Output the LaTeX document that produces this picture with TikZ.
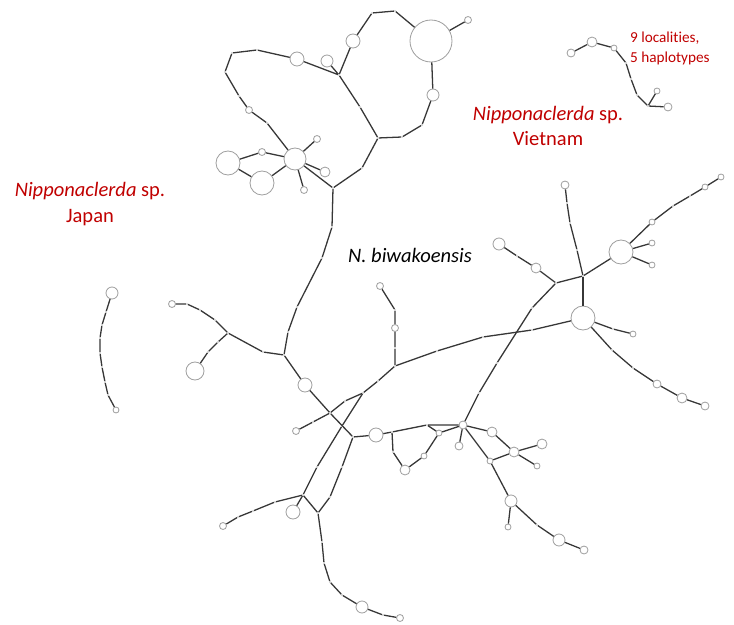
\documentclass[tikz,border=0pt]{standalone}
\usepackage{fontspec}
\setmainfont{Carlito}[Ligatures=NoCommon]
\usepackage{tikz}
\usetikzlibrary{positioning}
\definecolor{labred}{RGB}{192,0,0}
\definecolor{edgegray}{RGB}{55,55,55}
\definecolor{hapgray}{RGB}{160,160,160}
\tikzset{
  hap/.style={circle, draw=hapgray, fill=white, line width=0.7pt,
    inner sep=0pt, minimum size=#1*0.06cm},
  mv/.style={circle, draw=hapgray!60, fill=white, line width=0.3pt,
    inner sep=0pt, minimum size=0.055cm},
  link/.style={line width=1.1pt, color=edgegray},
  grouplabel/.style={text=labred, align=center,
    font=\fontsize{17.5}{22}\selectfont},
  notelabel/.style={text=labred, align=left, anchor=west,
    font=\fontsize{13}{17}\selectfont}
}

\begin{document}
\begin{tikzpicture}[x=0.03cm, y=-0.03cm]
  \useasboundingbox (0,0) rectangle (734,625);

  % haplotypes (x, y, radius)
  \foreach \n/\x/\y/\r in {t1/431/41/21, t2/468/20/3.5, t5/353/41/7, t6/433/95/6,
      t11/327/61/6, t12/297/59/7, t17/249/110/3.5, h2/295/159/11,
      h2a/317/139/3.5, h2b/325/172/5, h2c/304/190/3.5, t19/262/152/3.5,
      t20/228/163/12, t21/262/183/12,
      n1/172/304/3.5, n2/195/371/9, n3/305/385/7, n4/296/431/3.5,
      n5/395/328/3.5, n6/380/286/3.5, n7/376/435/7, n8/223/526/3.5,
      n9/293/512/7, n10/362/607/6, n11/400/618/3.5,
      h4/463/425/4, n12/439/433/3, n13/424/456/3, n14/405/470/5,
      n15/459/446/4, n16/492/432/5, n17/514/452/5, n18/542/444/5,
      n19/537/466/3, n20/490/461/3, n21/511/501/6, n22/508/527/3,
      n23/559/540/6, n24/584/550/4,
      h3/583/318/12, h5/621/252/12, n25/565/185/4, n26/536/268/5,
      n27/499/244/6, n28/652/222/3, n29/705/187/3, n30/721/177/3,
      n31/652/243/3, n32/652/265/3, n33/633/334/3, n34/657/384/4,
      n35/682/398/5, n36/705/406/4,
      v1/571/53/4, v2/592/42/5, v3/614/48/3, v4/657/91/3, v5/668/107/4,
      p1/112/293/6, p2/116/410/3}
    \node[hap=\r] (\n) at (\x,\y) {};

  % median vectors
  \foreach \n/\x/\y in {t3/395/11, t4/372/13, j1/339/75, t7/422/125,
      t8/402/137, j2/378/138, t9/360/107, t10/362/168, j3/333/188,
      t13/257/50, t14/232/53, t15/225/72, t16/239/96, t18/267/123,
      m1/332/227, m2/322/258, m3/297/307, m4/288/332, j4/284/355,
      m5/263/352, j5/228/333, m6/215/320, m7/200/310, m8/187/304,
      m9/218/342, m10/208/352, j6/330/413, j7/353/437, m11/313/422,
      m12/345/401, j8/363/393, m13/378/381, j9/395/366, m14/395/348,
      m15/395/310, m16/437/351, m17/483/337, m18/532/330,
      m19/342/426, m20/317/467, j10/303/495, m21/342/467, m22/330/497,
      j11/318/513, m23/275/502, m24/253/511, m25/238/517,
      m26/322/542, m27/324/563, m28/330/582, m29/342/595, m30/383/615,
      m31/392/432, m32/427/425, m33/393/452, m34/537/525,
      m35/479/393, m36/497/363, m37/532/308, j12/556/283, j13/583/276,
      m38/577/250, m39/570/223, m40/567/203, m41/517/256,
      m42/673/206, m43/690/196, m44/613/329, m45/612/350, m46/633/368,
      vm1/626/63, vm2/631/79, vm3/637/95, vj/648/106,
      pm1/106/312, pm2/102/325, pm3/100/338, pm4/100/353, pm5/102/367,
      pm6/105/382, pm7/108/395}
    \node[mv] (\n) at (\x,\y) {};

  % top loop
  \draw[link] (t2) -- (t1) -- (t3) -- (t4) -- (t5) -- (j1);
  \draw[link] (t1) -- (t6) -- (t7) -- (t8) -- (j2);
  \draw[link] (j1) -- (t9) -- (j2) -- (t10) -- (j3);
  \draw[link] (t11) -- (j1) -- (t12) -- (t13) -- (t14) -- (t15) -- (t16) -- (t17) -- (t18) -- (h2);
  \draw[link] (h2) -- (t19) -- (t20) -- (t21) -- (h2);
  \draw[link] (h2a) -- (h2) -- (h2b);
  \draw[link] (h2c) -- (h2) -- (j3);

  % centre
  \draw[link] (j3) -- (m1) -- (m2) -- (m3) -- (m4) -- (j4) -- (m5) -- (j5) -- (m6) -- (m7) -- (m8) -- (n1);
  \draw[link] (j5) -- (m9) -- (m10) -- (n2);
  \draw[link] (j4) -- (n3) -- (j6) -- (j7) -- (n7);
  \draw[link] (j6) -- (m11) -- (n4);
  \draw[link] (j6) -- (m12) -- (j8) -- (m13) -- (j9) -- (m14) -- (n5) -- (m15) -- (n6);
  \draw[link] (j9) -- (m16) -- (m17) -- (m18) -- (h3);
  \draw[link] (j8) -- (m19) -- (m20) -- (j10) -- (j11);
  \draw[link] (j7) -- (m21) -- (m22) -- (j11);
  \draw[link] (j10) -- (m23) -- (m24) -- (m25) -- (n8);
  \draw[link] (j10) -- (n9);
  \draw[link] (j11) -- (m26) -- (m27) -- (m28) -- (m29) -- (n10) -- (m30) -- (n11);

  % lower right
  \draw[link] (n7) -- (m31) -- (m32) -- (h4);
  \draw[link] (m32) -- (n12) -- (h4);
  \draw[link] (n12) -- (n13) -- (n14) -- (m33) -- (m31);
  \draw[link] (h4) -- (n15);
  \draw[link] (h4) -- (n16) -- (n17) -- (n18);
  \draw[link] (n17) -- (n19);
  \draw[link] (h4) -- (n20) -- (n17);
  \draw[link] (n20) -- (n21) -- (n22);
  \draw[link] (n21) -- (m34) -- (n23) -- (n24);

  % right
  \draw[link] (h4) -- (m35) -- (m36) -- (m37) -- (j12) -- (j13) -- (h5);
  \draw[link] (j13) -- (h3);
  \draw[link] (j13) -- (m38) -- (m39) -- (m40) -- (n25);
  \draw[link] (j12) -- (n26) -- (m41) -- (n27);
  \draw[link] (h5) -- (n28) -- (m42) -- (m43) -- (n29) -- (n30);
  \draw[link] (h5) -- (n31);
  \draw[link] (h5) -- (n32);
  \draw[link] (h3) -- (m44) -- (n33);
  \draw[link] (h3) -- (m45) -- (m46) -- (n34) -- (n35) -- (n36);

  % Vietnam and Japan
  \draw[link] (v1) -- (v2) -- (v3) -- (vm1) -- (vm2) -- (vm3) -- (vj) -- (v4);
  \draw[link] (vj) -- (v5);
  \draw[link] (p1) -- (pm1) -- (pm2) -- (pm3) -- (pm4) -- (pm5) -- (pm6) -- (pm7) -- (p2);

  % labels
  \node[grouplabel] (jp) at (90,204) {\textit{Nipponaclerda} sp.\\Japan};
  \node[grouplabel] (vn) at (548,126) {\textit{Nipponaclerda} sp.\\Vietnam};
  \node[notelabel] (loc) at (626,48) {9 localities,\\5 haplotypes};
  \node[font=\fontsize{17.5}{22}\selectfont\itshape] (nb) at (410,255) {N. biwakoensis};
\end{tikzpicture}
\end{document}
